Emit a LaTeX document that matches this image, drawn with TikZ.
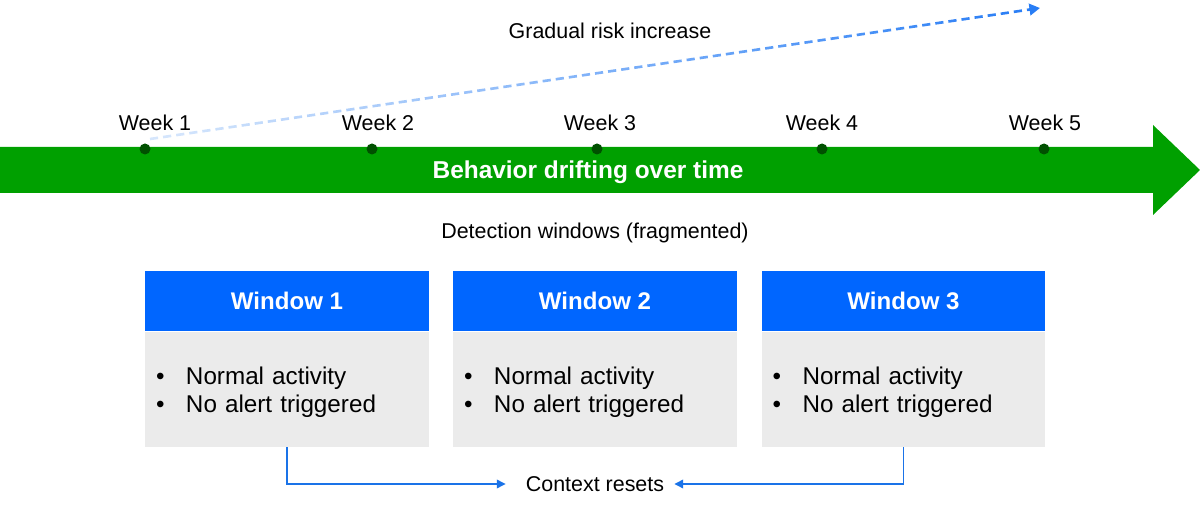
\documentclass[tikz,border=0pt]{standalone}
\usepackage{fontspec}
\setmainfont{Liberation Sans}
\usetikzlibrary{positioning,arrows.meta,calc}

\definecolor{driftgreen}{RGB}{0,160,0}
\definecolor{dotgreen}{RGB}{0,80,0}
\definecolor{headblue}{RGB}{0,102,255}
\definecolor{bodygray}{RGB}{235,235,235}
\definecolor{linkblue}{RGB}{26,115,232}
\definecolor{risklight}{RGB}{214,230,252}
\definecolor{riskdark}{RGB}{40,125,245}

\newcommand{\bulletitem}{\makebox[0.6cm][l]{\textbullet}}

\tikzset{
    weekdot/.style={circle, fill=dotgreen, inner sep=0pt, minimum size=0.22cm},
    plainlabel/.style={font=\fontsize{12.2}{14}\selectfont, inner sep=1pt},
    winhead/.style={fill=headblue, text=white, minimum width=5.68cm, minimum height=1.2cm,
        inner sep=0pt, font=\bfseries\fontsize{13.7}{16}\selectfont},
    winbody/.style={fill=bodygray, minimum width=5.68cm, minimum height=2.3cm, text width=5.24cm,
        inner xsep=0.22cm, inner ysep=0pt, align=left, font=\fontsize{13.8}{16.4}\selectfont},
    resetline/.style={linkblue, line width=0.7pt, -{Triangle[length=5pt, width=5pt]}},
}

\begin{document}
\begin{tikzpicture}[x=0.02cm, y=-0.02cm]

    \useasboundingbox (0,0) rectangle (1200,509);

    % timeline arrow
    \fill[driftgreen] (0,147) -- (1153,147) -- (1153,125) -- (1200,170)
        -- (1153,215) -- (1153,193) -- (0,193) -- cycle;
    \node[font=\bfseries\fontsize{13.9}{16}\selectfont, text=white] (drift) at (588,172)
        {Behavior drifting over time};

    \foreach \i/\dx/\lx in {1/145/155, 2/372/378, 3/597/600, 4/822/822, 5/1044/1045} {
        \node[weekdot] (dot\i) at (\dx,149) {};
        \node[plainlabel] (week\i) at (\lx,123) {Week \i};
    }

    % risk trend
    \coordinate (riskstart) at (150,139);
    \coordinate (riskend) at (1040,8);
    \foreach \i in {0,...,66} {
        \pgfmathtruncatemacro{\mix}{\i*100/67}
        \draw[line width=1.5pt, riskdark!\mix!risklight]
            ($(riskstart)!{\i/68}!(riskend)$) -- ($(riskstart)!{(\i+0.62)/68}!(riskend)$);
    }
    \draw[line width=1.5pt, riskdark, -{Triangle[length=6pt, width=6.5pt]}]
        ($(riskstart)!{67/68}!(riskend)$) -- (riskend);
    \node[plainlabel] (risklabel) at (610,31) {Gradual risk increase};

    % windows
    \node[plainlabel] (detect) at (595,233) {Detection windows (fragmented)};

    \foreach \i/\cx in {1/287, 2/595, 3/903.5} {
        \node[winhead] (win\i) at (\cx,301) {Window \i};
        \node[winbody, below=0pt of win\i] (body\i)
            {\rule{0pt}{13.5pt}\bulletitem Normal activity\\ \bulletitem No alert triggered};
    }

    \node[plainlabel, inner xsep=0.2cm] (reset) at (595,484) {Context resets};
    \draw[resetline, shorten >=0.2cm] (body1.south) |- (reset.west);
    \draw[resetline] (body3.south) |- (reset.east);

\end{tikzpicture}
\end{document}
